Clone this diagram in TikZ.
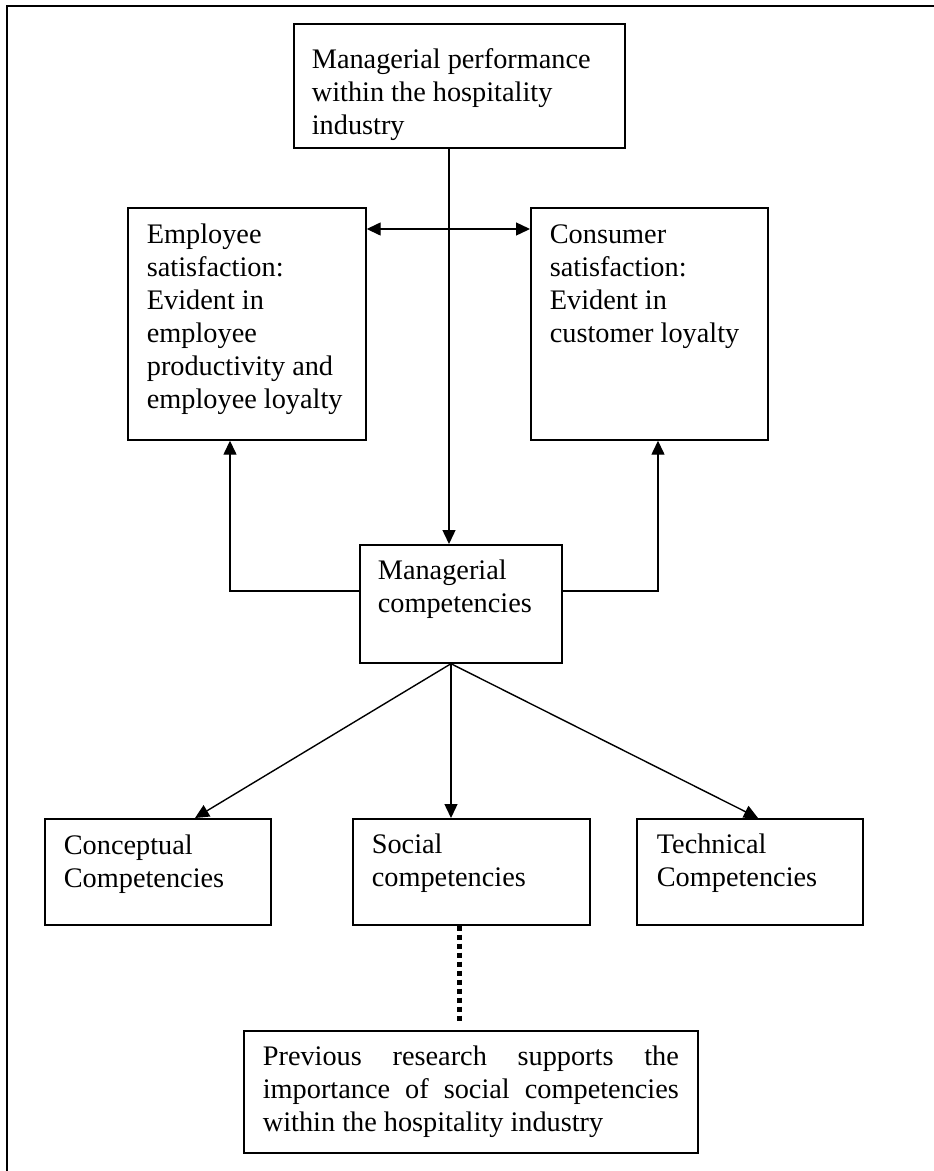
\documentclass[tikz,border=0pt]{standalone}
\usepackage{fontspec}
\setmainfont{Liberation Serif}
\usetikzlibrary{arrows.meta}

% Box content: width, height, left padding, first-baseline depth, text
\newcommand\boxtext[5]{%
  \parbox[t][#2][t]{#1}{\hspace*{#3}\parbox[t]{\dimexpr#1-2\dimexpr#3\relax\relax}{%
    \raggedright\rule{0pt}{#4}#5}}}
\newcommand\justline[1]{\makebox[\linewidth][s]{#1}}

\begin{document}
\begin{tikzpicture}[x=1pt,y=-1pt,
  font=\fontsize{28.3}{33}\selectfont,
  frame/.style={line width=2.4pt},
  box/.style={draw, line width=1.7pt, inner sep=0pt, anchor=north west},
  link/.style={line width=1.4pt, -{Triangle[length=14pt,width=13pt]}},
  duallink/.style={line width=1.4pt, {Triangle[length=14pt,width=13pt]}-{Triangle[length=14pt,width=13pt]}},
  dotlink/.style={line width=5pt, dash pattern=on 5pt off 4pt}
]
\useasboundingbox (0,0) rectangle (934,1171);

% page frame (top and left edges only)
\coordinate (fl) at (7,1171);
\coordinate (fc) at (7,6);
\coordinate (fr) at (934,6);
\draw[frame] (fl) -- (fc) -- (fr);

% boxes
\node[box] (perf) at (293,23)
  {\boxtext{331pt}{124pt}{18pt}{45pt}{Managerial performance\\within the hospitality\\industry}};
\node[box] (emp) at (127,207)
  {\boxtext{238pt}{232pt}{19pt}{36pt}{Employee\\satisfaction:\\Evident in\\employee\\productivity and\\employee loyalty}};
\node[box] (con) at (530,207)
  {\boxtext{237pt}{232pt}{19pt}{36pt}{Consumer\\satisfaction:\\Evident in\\customer loyalty}};
\node[box] (mgr) at (359,544)
  {\boxtext{202pt}{118pt}{18pt}{35pt}{Managerial\\competencies}};
\node[box] (conc) at (44,818)
  {\boxtext{226pt}{106pt}{19pt}{36pt}{Conceptual\\Competencies}};
\node[box] (soc) at (352,818)
  {\boxtext{237pt}{106pt}{19pt}{35pt}{Social\\competencies}};
\node[box] (tech) at (636,818)
  {\boxtext{226pt}{106pt}{20pt}{35pt}{Technical\\Competencies}};
\node[box] (prev) at (243,1030)
  {\boxtext{454pt}{122pt}{19pt}{35pt}{\justline{Previous research supports the}\\
   \justline{importance of social competencies}\\within the hospitality industry}};

% reference positions for the connectors
\coordinate (vx) at (449,0);
\coordinate (hy) at (0,229);
\coordinate (ely) at (0,591);
\coordinate (elx) at (230,0);
\coordinate (erx) at (658,0);
\coordinate (cx) at (195,0);
\coordinate (sx) at (451,0);
\coordinate (tx) at (758,0);
\coordinate (dx) at (459,0);

% connectors
\draw[link] (perf.south -| vx) -- (mgr.north -| vx);
\draw[duallink] (emp.east |- hy) -- (con.west |- hy);
\draw[link] (mgr.west |- ely) -| (elx |- emp.south);
\draw[link] (mgr.east |- ely) -| (erx |- con.south);
\draw[link] (mgr.south -| sx) -- (cx |- conc.north);
\draw[link] (mgr.south -| sx) -- (sx |- soc.north);
\draw[link] (mgr.south -| sx) -- (tx |- tech.north);
\draw[dotlink] (soc.south -| dx) -- ([yshift=7pt]prev.north -| dx);
\end{tikzpicture}
\end{document}
